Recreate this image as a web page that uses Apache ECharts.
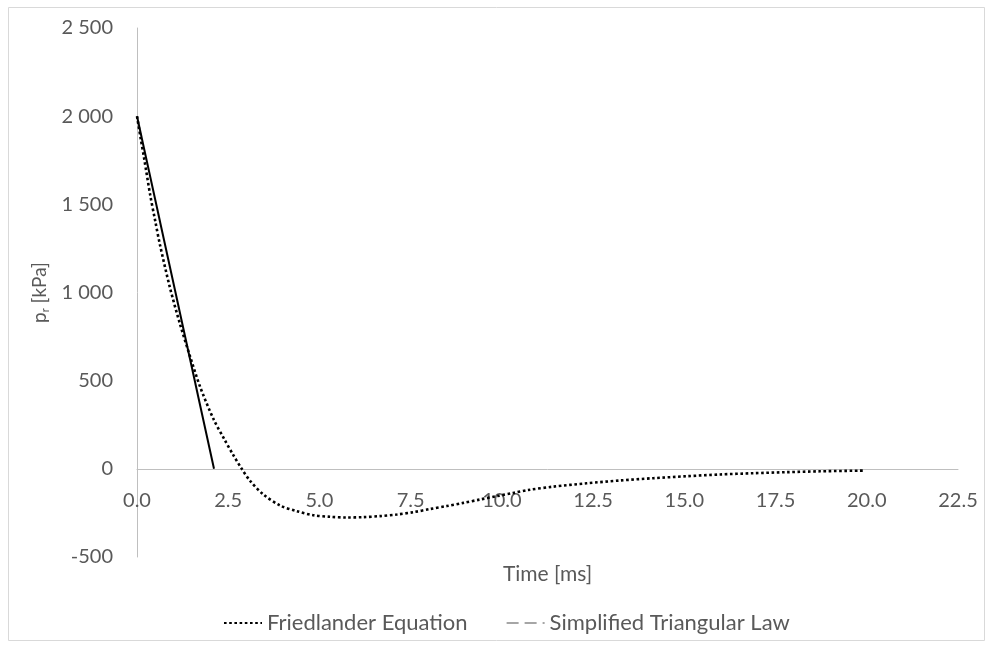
<!DOCTYPE html>
<html>
<head>
<meta charset="utf-8">
<script src="https://cdn.jsdelivr.net/npm/echarts@6/dist/echarts.min.js"></script>
<style>html,body{margin:0;padding:0;background:#fff}#c{width:993px;height:648px}</style>
</head>
<body>
<div id="c"></div>
<script>
// Time [ms]
var friedlanderT = [0,0.1,0.2,0.36,0.5,0.63,0.9,1.18,1.45,1.73,2.09,2.4,2.64,2.87,3.1,3.46,3.92,4.38,4.83,5.29,5.75,6.2,6.66,7.12,7.57,8.03,8.49,8.94,9.4,9.86,10.31,10.72,11.41,12.32,13.24,14.15,15.06,15.98,16.89,17.8,18.72,19.95];
// p_r [kPa]
var friedlanderP = [2000,1875,1755,1555,1405,1270,1030,820,640,465,285,165,78,0,-68,-145,-208,-240,-263,-272,-276,-274,-268,-259,-246,-228,-211,-193,-174,-155,-137,-120,-101,-82,-66,-53,-42,-32,-25,-19,-14,-10];
var triangT = [0, 2.11];
var triangP = [2000, 0];
var seriesNames = ['Friedlander Equation', 'Simplified Triangular Law'];
var xTicks = {min: 0, max: 22.5, step: 2.5};
var yTicks = {min: -500, max: 2500, step: 500};

function pairs(a, b) { return a.map(function (v, i) { return [v, b[i]]; }); }

var chart = echarts.init(document.getElementById('c'), null, {renderer: 'canvas'});
var txt = '#595959';
var font = 'Lato';
var gridTop = 28, gridBottom = 91, H = 648;
// offset that places the x axis at value 0 of the y axis
var plotH = H - gridTop - gridBottom;
var zeroOffset = -plotH * (0 - yTicks.min) / (yTicks.max - yTicks.min);
chart.setOption({
  backgroundColor: '#fff',
  animation: false,
  textStyle: {fontFamily: font},
  graphic: [{
    type: 'rect', silent: true,
    shape: {x: 8.5, y: 7.5, width: 976, height: 633},
    style: {fill: 'none', stroke: '#d9d9d9', lineWidth: 1}
  }],
  grid: {left: 137, right: 35, top: gridTop, bottom: gridBottom, containLabel: false, outerBoundsMode: 'none'},
  xAxis: {
    type: 'value', min: xTicks.min, max: xTicks.max, interval: xTicks.step,
    offset: zeroOffset,
    name: 'Time [ms]', nameLocation: 'middle', nameGap: 95,
    nameTextStyle: {color: txt, fontSize: 21, fontFamily: font},
    axisLine: {show: true, onZero: false, lineStyle: {color: '#bfbfbf', width: 1}},
    axisTick: {show: false},
    splitLine: {show: false},
    axisLabel: {color: txt, fontSize: 20, fontFamily: font, margin: 22,
      formatter: function (v) { return v.toFixed(1); }}
  },
  yAxis: {
    type: 'value', min: yTicks.min, max: yTicks.max, interval: yTicks.step,
    name: '{p|p}{s|r} [kPa]', nameLocation: 'middle', nameGap: 74,
    nameTextStyle: {color: txt, fontSize: 19, fontFamily: font,
      rich: {p: {fontSize: 19, color: txt, fontFamily: font}, s: {fontSize: 11, color: txt, fontFamily: font, verticalAlign: 'bottom', padding: [10, 0, 0, 0]}}},
    axisLine: {show: true, onZero: false, lineStyle: {color: '#bfbfbf', width: 1}},
    axisTick: {show: false},
    splitLine: {show: false},
    axisLabel: {color: txt, fontSize: 20, fontFamily: font, margin: 24,
      formatter: function (v) { return String(v).replace(/\B(?=(\d{3})+(?!\d))/g, ' '); }}
  },
  legend: {
    bottom: 9, left: 218, itemWidth: 38, itemHeight: 14, itemGap: 38,
    textStyle: {color: txt, fontSize: 22, fontFamily: font},
    itemStyle: {opacity: 0},
    data: [
      {name: seriesNames[0]},
      {name: seriesNames[1], lineStyle: {color: '#a6a6a6', type: [12, 6], width: 2}}
    ]
  },
  series: [{
    name: seriesNames[0], type: 'line', data: pairs(friedlanderT, friedlanderP),
    symbol: 'none', smooth: 0.3,
    lineStyle: {color: '#000', width: 2.6, type: [2.6, 2.6]},
    itemStyle: {color: '#000'}
  }, {
    name: seriesNames[1], type: 'line', data: pairs(triangT, triangP),
    symbol: 'none',
    lineStyle: {color: '#000', width: 2, type: 'solid'},
    itemStyle: {color: '#000'}
  }]
});
</script>
</body>
</html>
